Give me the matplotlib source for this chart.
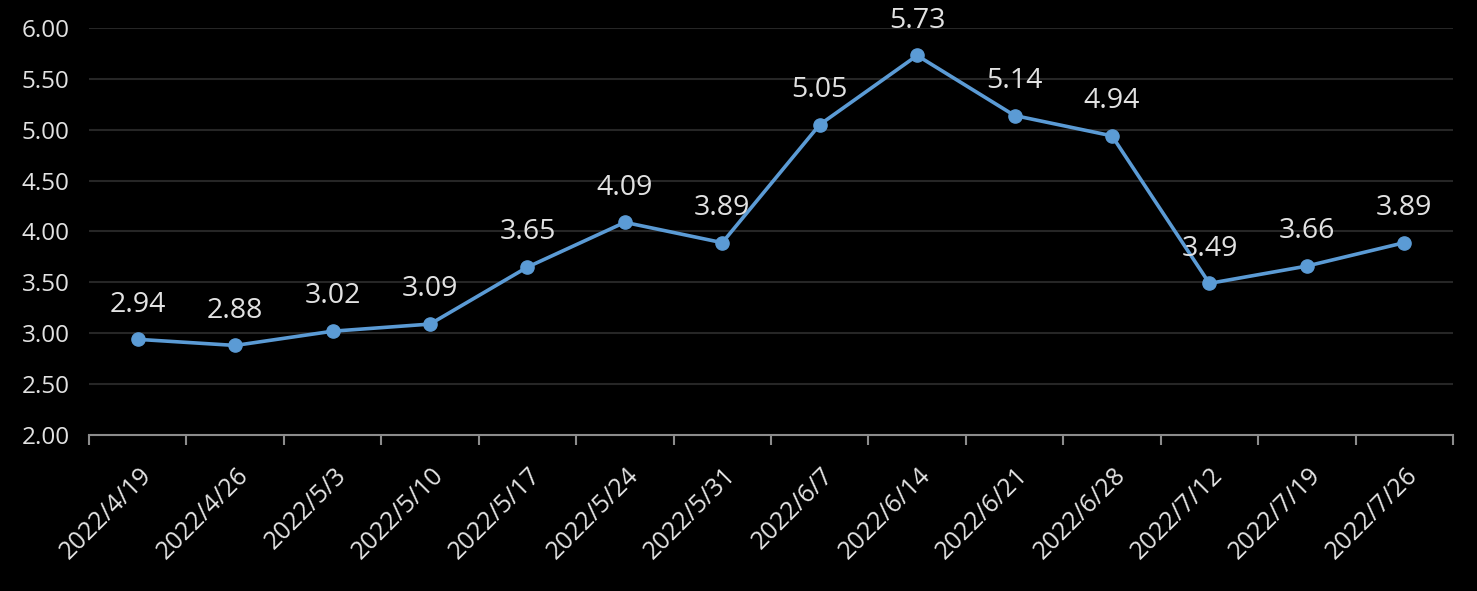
import numpy as np
import matplotlib
matplotlib.use('Agg')
import matplotlib.pyplot as plt
import matplotlib.transforms as mtransforms

dates = ['2022/4/19', '2022/4/26', '2022/5/3', '2022/5/10', '2022/5/17',
         '2022/5/24', '2022/5/31', '2022/6/7', '2022/6/14', '2022/6/21',
         '2022/6/28', '2022/7/12', '2022/7/19', '2022/7/26']
values = [2.94, 2.88, 3.02, 3.09, 3.65, 4.09, 3.89, 5.05, 5.73, 5.14,
          4.94, 3.49, 3.66, 3.89]
y_ticks = [2.0, 2.5, 3.0, 3.5, 4.0, 4.5, 5.0, 5.5, 6.0]

plt.rcParams['font.family'] = ['Open Sans', 'DejaVu Sans']
text_color = '#E2E2E2'
line_color = '#5B9BD5'

fig = plt.figure(figsize=(14.77, 5.91), dpi=100, facecolor='black')
ax = fig.add_axes([0.0603, 0.264, 0.9234, 0.6886], facecolor='black')

x = np.arange(len(dates))
ax.plot(x, values, color=line_color, lw=2.6, marker='o', ms=9.5,
        zorder=3, solid_capstyle='round')

for xi, v in zip(x, values):
    ax.annotate('%.2f' % v, (xi, v), xytext=(0, 25), textcoords='offset points',
                ha='center', va='center', fontsize=20.5, color=text_color, zorder=4)

ax.set_xlim(-0.5, len(dates) - 0.5)
ax.set_ylim(2.0, 6.0)
ax.set_yticks(y_ticks)
ax.set_yticklabels(['%.2f' % t for t in y_ticks])
ax.yaxis.grid(True, color='#262626', lw=1.5)
ax.set_axisbelow(True)

ax.set_xticks(x)
ax.set_xticklabels(dates, rotation=45, ha='right', rotation_mode='anchor',
                   fontsize=18, color=text_color)
ax.set_xticks(np.arange(-0.5, len(dates)), minor=True)
ax.tick_params(axis='x', which='major', length=0, pad=20)
ax.tick_params(axis='x', which='minor', length=7.5, width=1.5, color='#8C8C8C')
ax.tick_params(axis='y', length=0, pad=14, labelsize=17.5, labelcolor=text_color)

offset = mtransforms.ScaledTranslation(0.01, 0, fig.dpi_scale_trans)
for lab in ax.get_xticklabels():
    lab.set_transform(lab.get_transform() + offset)

for side in ['top', 'right', 'left']:
    ax.spines[side].set_visible(False)
ax.spines['bottom'].set_color('#8C8C8C')
ax.spines['bottom'].set_linewidth(1.5)

fig.savefig('out.png', dpi=100, facecolor='black')
